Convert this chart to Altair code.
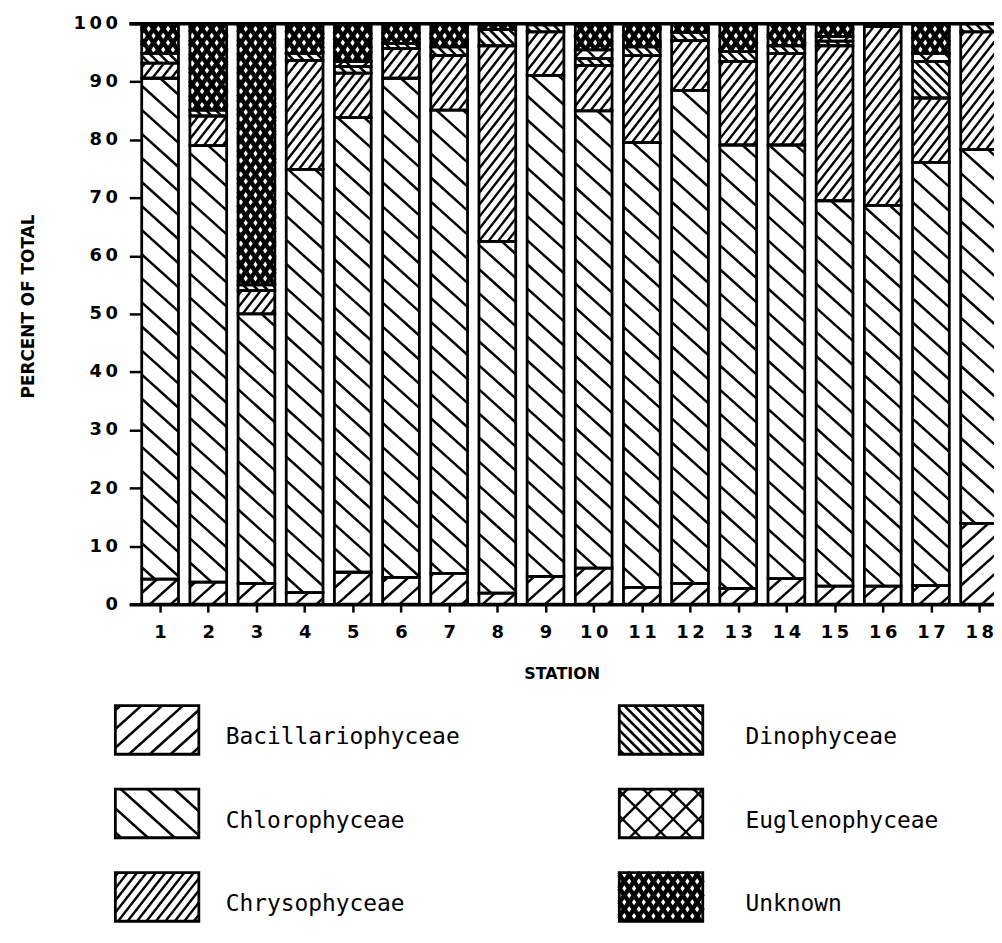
import math
import altair as alt
import pandas as pd

# ---------------- data (percent of total, cells/liter) ----------------
stations = list(range(1, 19))
categories = ["Bacillariophyceae", "Chlorophyceae", "Chrysophyceae",
              "Dinophyceae", "Euglenophyceae", "Unknown"]
bacillariophyceae = [4.3, 3.8, 3.6, 2.0, 5.5, 4.6, 5.3, 1.9, 4.8, 6.2, 2.9, 3.6, 2.7, 4.4, 3.1, 3.1, 3.2, 13.9]
chlorophyceae = [86.3, 75.2, 46.4, 72.9, 78.3, 86.0, 79.8, 60.6, 86.3, 78.8, 76.6, 84.9, 76.4, 74.7, 66.4, 65.6, 72.9, 64.4]
chrysophyceae = [2.6, 5.1, 4.0, 18.8, 7.7, 5.1, 9.4, 33.7, 7.5, 7.8, 15.0, 8.6, 14.4, 15.8, 26.7, 30.8, 11.1, 20.3]
dinophyceae = [1.7, 1.0, 1.0, 1.2, 1.1, 0.9, 1.5, 2.8, 1.2, 1.2, 1.5, 1.4, 1.7, 1.3, 0.8, 0.5, 6.3, 1.4]
euglenophyceae = [0.0, 0.0, 0.0, 0.0, 0.9, 0.0, 0.0, 0.0, 0.0, 1.5, 0.0, 0.0, 0.0, 0.0, 0.8, 0.0, 1.4, 0.0]
unknown = [5.1, 14.9, 45.0, 5.1, 6.5, 3.4, 4.0, 1.0, 0.2, 4.5, 4.0, 1.5, 4.8, 3.8, 2.2, 0.0, 5.1, 0.0]
y_ticks = list(range(0, 101, 10))

series = [bacillariophyceae, chlorophyceae, chrysophyceae, dinophyceae, euglenophyceae, unknown]
rows = []
for ci, (cat, vals) in enumerate(zip(categories, series)):
    for st, v in zip(stations, vals):
        rows.append({"station": st, "category": cat, "order": ci, "value": v})
df = pd.DataFrame(rows)
legend_df = pd.DataFrame({"category": categories,
                          "col": [i // 3 for i in range(len(categories))],
                          "row": [i % 3 for i in range(len(categories))]})
top_df = pd.DataFrame({"y": [100]})

# ---------------- layout / style ----------------
W, H = 870, 584
PLOT_LEFT, PLOT_TOP = 130, 21          # page px
SX = 48.47                              # px per station
XMIN = 0.36
XMAX = XMIN + W / SX
SY = H / 100.0
BW = 0.763                              # bar width (stations)
BASE_Y = PLOT_TOP + H

# hatch styles: (angle deg, perpendicular spacing px, stroke width)
styles = {
    "Bacillariophyceae": [(42, 14, 2.5)],
    "Chlorophyceae": [(-42, 18, 2.5)],
    "Chrysophyceae": [(52, 7.5, 2.4)],
    "Dinophyceae": [(-45, 7, 2.6)],
    "Euglenophyceae": [(45, 18, 2.4), (-45, 18, 2.4)],
    "Unknown": [(55, 8, 4.5), (-55, 8, 4.5)],
}

xscale = alt.Scale(domain=[XMIN, XMAX], nice=False, zero=False)
yscale = alt.Scale(domain=[0, 100], nice=False, zero=False)

FONT = "DejaVu Sans"
x_axis = alt.Axis(values=stations, format="d", title="STATION", orient="bottom",
                  domain=True, domainColor="black", domainWidth=3.5,
                  ticks=True, tickColor="black", tickWidth=2.5, tickSize=8,
                  labelFont=FONT, labelFontSize=18, labelFontWeight="bold", labelColor="black",
                  labelPadding=12, labelExpr="join(split(datum.label, ''), '\u2009')",
                  titleFont=FONT, titleFontSize=16, titleFontWeight="bold", titleColor="black",
                  titlePadding=24, grid=False)
y_axis = alt.Axis(values=y_ticks, format="d", title="PERCENT OF TOTAL", orient="left",
                  offset=-12, domain=False, ticks=True, tickColor="black", tickWidth=2.5, tickSize=12,
                  labelFont=FONT, labelFontSize=18, labelFontWeight="bold", labelColor="black",
                  labelPadding=12, labelExpr="join(split(datum.label, ''), '\u2009')",
                  titleFont=FONT, titleFontSize=17, titleFontWeight="bold", titleColor="black",
                  titlePadding=36, titleY=284, grid=False)


def X(field):
    return alt.X(field, scale=xscale, axis=x_axis)


def Y(field):
    return alt.Y(field, scale=yscale, axis=y_axis)


def hatch(chart, angle, d, sw):
    th = math.radians(angle)
    c, s = math.cos(th), math.sin(th)
    nx, ny = -s, c
    return (chart
            .transform_calculate(pL=f"(datum.x0 - ({XMIN}))*{SX}")
            .transform_calculate(pR=f"(datum.x1 - ({XMIN}))*{SX}")
            .transform_calculate(pB=f"datum.y0*{SY}")
            .transform_calculate(pT=f"datum.y1*{SY}")
            .transform_calculate(vmin=f"min(({nx})*datum.pL, ({nx})*datum.pR) + min(({ny})*datum.pB, ({ny})*datum.pT)")
            .transform_calculate(vmax=f"max(({nx})*datum.pL, ({nx})*datum.pR) + max(({ny})*datum.pB, ({ny})*datum.pT)")
            .transform_calculate(ks=f"sequence(ceil(datum.vmin/{d}), floor(datum.vmax/{d}) + 1)")
            .transform_flatten(["ks"])
            .transform_calculate(ox=f"datum.ks*{d}*({nx})")
            .transform_calculate(oy=f"datum.ks*{d}*({ny})")
            .transform_calculate(tx1=f"(datum.pL - datum.ox)/({c})")
            .transform_calculate(tx2=f"(datum.pR - datum.ox)/({c})")
            .transform_calculate(ty1=f"(datum.pB - datum.oy)/({s})")
            .transform_calculate(ty2=f"(datum.pT - datum.oy)/({s})")
            .transform_calculate(t0="max(min(datum.tx1, datum.tx2), min(datum.ty1, datum.ty2))")
            .transform_calculate(t1="min(max(datum.tx1, datum.tx2), max(datum.ty1, datum.ty2))")
            .transform_filter("datum.t1 - datum.t0 > 0.5")
            .transform_calculate(xa=f"({XMIN}) + (datum.ox + datum.t0*({c}))/{SX}")
            .transform_calculate(ya=f"(datum.oy + datum.t0*({s}))/{SY}")
            .transform_calculate(xb=f"({XMIN}) + (datum.ox + datum.t1*({c}))/{SX}")
            .transform_calculate(yb=f"(datum.oy + datum.t1*({s}))/{SY}")
            .mark_rule(color="black", strokeWidth=sw, strokeCap="butt")
            .encode(x=X("xa:Q"), x2="xb:Q", y=Y("ya:Q"), y2="yb:Q"))


seg = (alt.Chart(df)
       .transform_filter("datum.value > 0")
       .transform_stack(stack="value", groupby=["station"], as_=["y0", "y1"],
                        sort=[alt.SortField("order", order="ascending")])
       .transform_calculate(x0=f"datum.station - {BW / 2}")
       .transform_calculate(x1=f"datum.station + {BW / 2}"))

layers = []
layers.append(seg.mark_rect(color="white", strokeWidth=0).encode(
    x=X("x0:Q"), x2="x1:Q", y=Y("y0:Q"), y2="y1:Q"))
for cat in categories:
    for ang, d, sw in styles[cat]:
        layers.append(hatch(seg.transform_filter(alt.datum.category == cat), ang, d, sw))
layers.append(seg.mark_rect(filled=False, stroke="black", strokeWidth=2.8).encode(
    x=X("x0:Q"), x2="x1:Q", y=Y("y0:Q"), y2="y1:Q"))
layers.append(alt.Chart(top_df).mark_rule(color="black", strokeWidth=3.5).encode(y=Y("y:Q")))

# ---------------- legend ----------------
LEG_BOX_X = [116, 623]
LEG_TEXT_X = [227, 750]
LEG_ROW_TOP = [707, 791, 875]
BOX_W, BOX_H = 84, 49

leg = (alt.Chart(legend_df)
       .transform_calculate(x0=f"({XMIN}) + ({LEG_BOX_X}[datum.col] - {PLOT_LEFT})/{SX}")
       .transform_calculate(x1=f"datum.x0 + {BOX_W}/{SX}")
       .transform_calculate(y1=f"({BASE_Y} - {LEG_ROW_TOP}[datum.row])/{SY}")
       .transform_calculate(y0=f"datum.y1 - {BOX_H}/{SY}")
       .transform_calculate(tx=f"({XMIN}) + ({LEG_TEXT_X}[datum.col] - {PLOT_LEFT})/{SX}")
       .transform_calculate(ty=f"({BASE_Y} - {LEG_ROW_TOP}[datum.row] - 32)/{SY}"))
layers.append(leg.mark_rect(color="white", strokeWidth=0).encode(
    x=X("x0:Q"), x2="x1:Q", y=Y("y0:Q"), y2="y1:Q"))
for cat in categories:
    for ang, d, sw in styles[cat]:
        layers.append(hatch(leg.transform_filter(alt.datum.category == cat), ang, d, sw))
layers.append(leg.mark_rect(filled=False, stroke="black", strokeWidth=2.8).encode(
    x=X("x0:Q"), x2="x1:Q", y=Y("y0:Q"), y2="y1:Q"))
layers.append(leg.mark_text(align="left", baseline="middle", font="DejaVu Sans Mono",
                            fontSize=23, color="black").encode(
    x=X("tx:Q"), y=Y("ty:Q"), text="category:N"))

chart = (alt.layer(*layers)
         .properties(width=W, height=H,
                     title=alt.TitleParams("(cells/liter)", font=FONT, fontSize=17, fontWeight="bold",
                                           color="black", anchor="middle", frame="group",
                                           baseline="bottom", offset=0, dx=-17),
                     autosize=alt.AutoSizeParams(type="none"),
                     padding={"left": PLOT_LEFT - 8, "top": PLOT_TOP - 8, "right": 0, "bottom": 321})
         .configure_view(strokeWidth=0))

chart.save("out.html", embed_options={"renderer": "svg", "actions": False})
